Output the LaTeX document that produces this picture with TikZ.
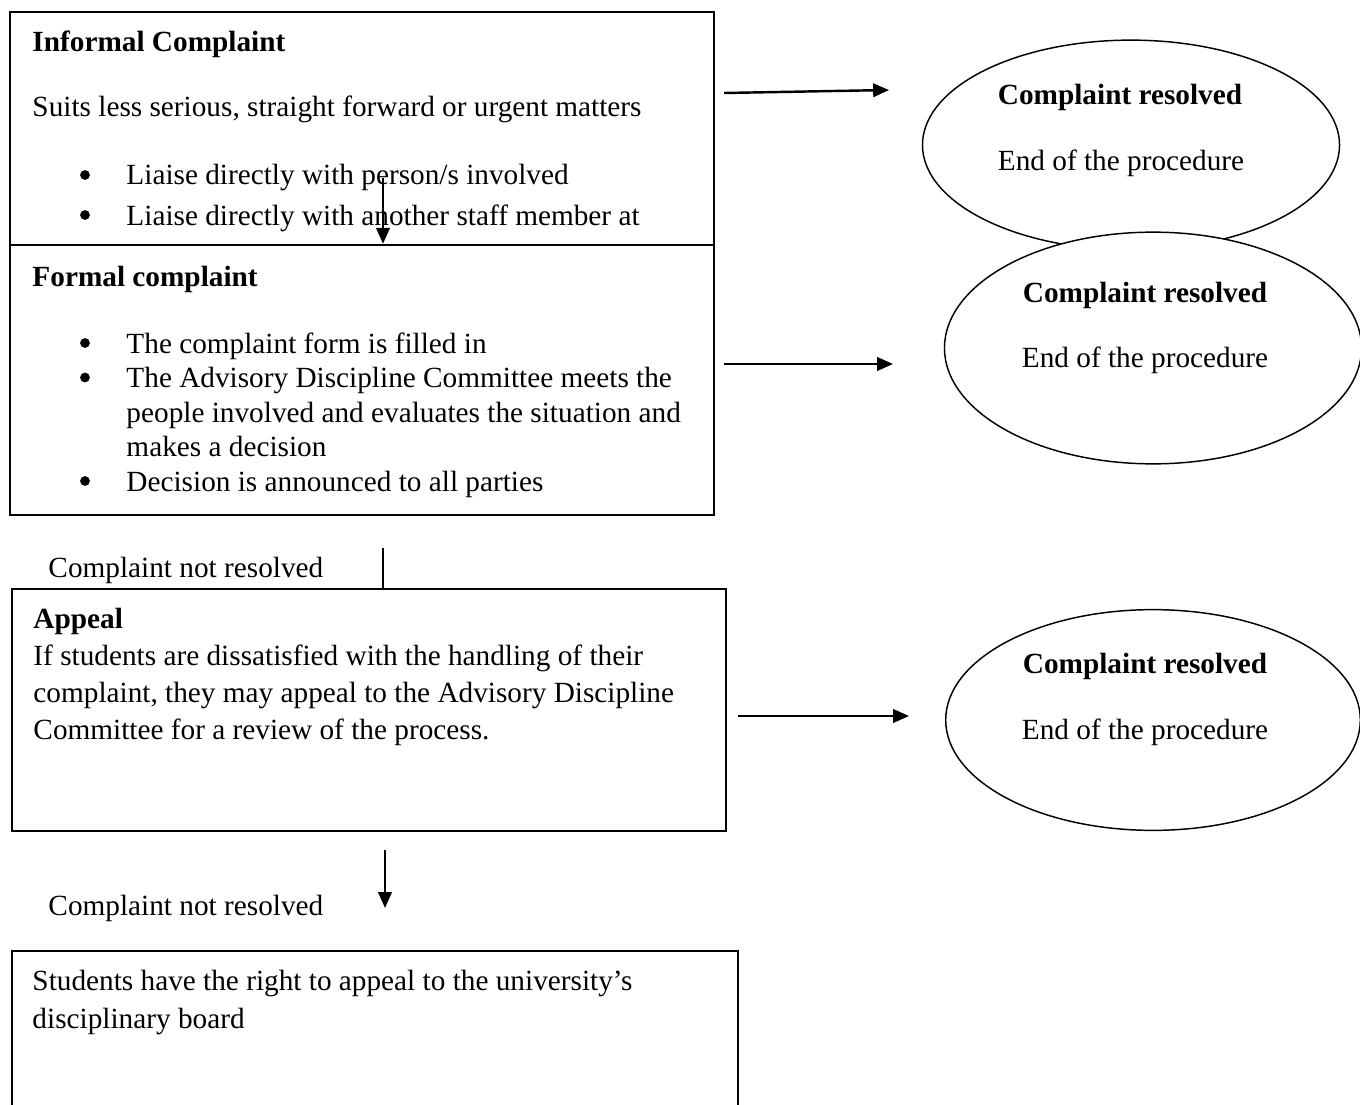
\documentclass[tikz,border=0pt]{standalone}
\usepackage{fontspec}
\setmainfont{Liberation Serif}
\usetikzlibrary{arrows.meta,shapes.geometric,fit}

\tikzset{
  box/.style={draw, line width=1pt, fill=white, inner sep=0pt},
  oval/.style={draw, line width=0.6pt, fill=white, ellipse, inner sep=0pt},
  txt/.style={anchor=base west, inner sep=0pt, font=\fontsize{12}{14}\selectfont},
  ttl/.style={txt, font=\fontsize{12}{14}\selectfont\bfseries},
  ctxt/.style={txt, anchor=base},
  cttl/.style={ttl, anchor=base},
  dot/.style={circle, fill, inner sep=0pt, minimum size=4pt},
  flow/.style={line width=1pt, -{Triangle[length=6.5pt,width=5.5pt]}},
  link/.style={line width=1pt},
}

\begin{document}
\begin{tikzpicture}[x=0.41pt, y=-0.41pt]
  \useasboundingbox (0,0) rectangle (1360,1105);
  \clip (0,0) rectangle (1360,1105);

  % informal complaint
  \node[box, fit={(10,12) (714,280)}] (informal) {};
  \node[ttl] (informalhead) at (32,52) {Informal Complaint};
  \node[txt] (informaltext) at (32,117) {Suits less serious, straight forward or urgent matters};
  \node[dot] (dota) at (85,175) {};
  \node[txt] (liaisea) at (126,185) {Liaise directly with person/s involved};
  \node[dot] (dotb) at (85,215) {};
  \node[txt] (liaiseb) at (126,225) {Liaise directly with another staff member at};
  \node[txt] (liaisec) at (126,265) {head level};
  \node[oval, minimum width=171pt, minimum height=86pt] (resolveda) at (1131,145) {};
  \node[cttl] (resolvedahead) at (1120,104) {Complaint resolved};
  \node[ctxt] (resolvedatext) at (1121,170) {End of the procedure};

  % formal complaint
  \node[box, fit={(10,245) (714,515)}] (formal) {};
  \node[ttl] (formalhead) at (32,286) {Formal complaint};
  \node[dot] (dotc) at (85,343) {};
  \node[txt] (forma) at (126,353) {The complaint form is filled in};
  \node[dot] (dotd) at (85,377.5) {};
  \node[txt] (formb) at (126,387.5) {The Advisory Discipline Committee meets the};
  \node[txt] (formc) at (126,422) {people involved and evaluates the situation and};
  \node[txt] (formd) at (126,456.5) {makes a decision};
  \node[dot] (dote) at (85,481) {};
  \node[txt] (forme) at (126,491) {Decision is announced to all parties};
  \node[oval, minimum width=171pt, minimum height=95pt] (resolvedb) at (1153,348) {};
  \node[cttl] (resolvedbhead) at (1145,302) {Complaint resolved};
  \node[ctxt] (resolvedbtext) at (1145,367) {End of the procedure};

  % appeal
  \node[box, fit={(12,589) (726,831)}] (appeal) {};
  \node[ttl] (appealhead) at (33,628) {Appeal};
  \node[txt] (appeala) at (33,665) {If students are dissatisfied with the handling of their};
  \node[txt] (appealb) at (33,702) {complaint, they may appeal to the Advisory Discipline};
  \node[txt] (appealc) at (33,739) {Committee for a review of the process.};
  \node[oval, minimum width=170pt, minimum height=90.5pt] (resolvedc) at (1153,720) {};
  \node[cttl] (resolvedchead) at (1145,673) {Complaint resolved};
  \node[ctxt] (resolvedctext) at (1145,739) {End of the procedure};

  % university board
  \node[box, fit={(12,951) (738,1130)}] (board) {};
  \node[txt] (boarda) at (32,990) {Students have the right to appeal to the university’s};
  \node[txt] (boardb) at (32,1028) {disciplinary board};

  \node[txt] (notresolveda) at (48,577) {Complaint not resolved};
  \node[txt] (notresolvedb) at (48,915) {Complaint not resolved};

  % connectors
  \coordinate (da) at (383,178);
  \coordinate (db) at (383,548);
  \coordinate (dc) at (385,850);
  \coordinate (dcend) at (385,908);
  \coordinate (ra) at (724,93);
  \coordinate (raend) at (889,90);
  \coordinate (rb) at (724,364);
  \coordinate (rbend) at (893,364);
  \coordinate (rc) at (738,716);
  \coordinate (rcend) at (909,716);

  \draw[flow] (da) -- (da |- formal.north);
  \draw[link] (db) -- (db |- appeal.north);
  \draw[flow] (dc) -- (dcend);
  \draw[flow] (ra) -- (raend);
  \draw[flow] (rb) -- (rbend);
  \draw[flow] (rc) -- (rcend);
\end{tikzpicture}
\end{document}
